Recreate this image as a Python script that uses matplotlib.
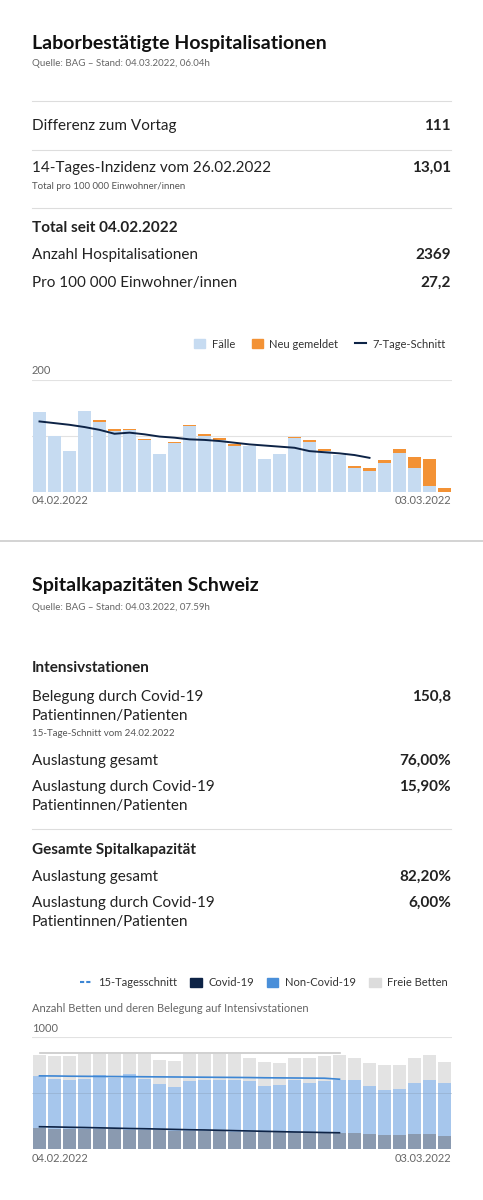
import matplotlib
matplotlib.use("Agg")
import matplotlib.pyplot as plt
from matplotlib.patches import Patch
from matplotlib.lines import Line2D
import numpy as np

plt.rcParams['font.family'] = ['Lato', 'DejaVu Sans']

# Chart 1: hospitalisations
faelle = [142,100,74,144,125,109,110,93,68,87,118,100,93,83,83,59,68,96,90,73,66,43,37,52,69,42,11,0]
neu    = [0,0,0,0,3,3,3,2,0,3,1,3,3,2,0,0,0,3,3,4,0,4,5,5,7,20,48,7]
avg7   = [126,123,120,116,111,104,106,103,99,97,94,93,91,88,85,83,81,79,73,71,69,66,61]

# Chart 2: ICU beds
total   = [837,828,828,852,852,852,852,846,792,786,846,846,846,846,816,777,772,816,816,828,837,816,769,754,754,813,837,777]
noncov_top = [650,629,620,629,659,638,674,629,576,555,608,614,620,614,605,561,570,620,585,605,620,614,564,525,534,593,614,585]
covid   = [184,181,178,175,175,175,172,169,166,163,160,157,157,154,154,151,148,148,145,142,139,139,131,122,122,131,131,119]
avg15_occ = [653,652,650,649,648,647,646,645,644,643,642,641,640,639,638,636,635,634,633,632,623]
avg15_cov = [199,197,194,192,189,186,183,181,178,175,172,170,167,164,161,158,155,152,150,147,145]
avg15_tot = [860]*21

W, H = 483, 1200
fig = plt.figure(figsize=(W/100, H/100), dpi=100)
def fy(p): return 1 - p/H
def fx(p): return p/W
def txt(x, y, s, size=11, bold=False, color='#222222', ha='left'):
    fig.text(fx(x), fy(y), s, fontsize=size, fontweight='bold' if bold else 'normal',
             color=color, ha=ha, va='center')
def hline(y, x0=32, x1=451, color='#dddddd', lw=0.8):
    fig.add_artist(Line2D([fx(x0), fx(x1)], [fy(y), fy(y)], color=color, lw=lw))

txt(32, 43, 'Laborbestätigte Hospitalisationen', 14, True, '#111111')
txt(32, 64, 'Quelle: BAG – Stand: 04.03.2022, 06.04h', 7, False, '#666666')
hline(101)
txt(32, 126, 'Differenz zum Vortag'); txt(451, 126, '111', 11, True, ha='right')
hline(150)
txt(32, 168, '14-Tages-Inzidenz vom 26.02.2022'); txt(451, 168, '13,01', 11, True, ha='right')
txt(32, 187, 'Total pro 100 000 Einwohner/innen', 7, False, '#555555')
hline(208)
txt(32, 228, 'Total seit 04.02.2022', 11, True)
txt(32, 255, 'Anzahl Hospitalisationen'); txt(451, 255, '2369', 11, True, ha='right')
txt(32, 283, 'Pro 100 000 Einwohner/innen'); txt(451, 283, '27,2', 11, True, ha='right')

ax1 = fig.add_axes([fx(32), fy(492), fx(420), 112/H])
x = np.arange(len(faelle))
ax1.bar(x, faelle, width=0.86, color='#c6dbf1', zorder=2)
ax1.bar(x, neu, bottom=faelle, width=0.86, color='#f39235', zorder=2)
ax1.plot(np.arange(len(avg7)), avg7, color='#0d2346', lw=1.4, zorder=3)
ax1.set_ylim(0, 200); ax1.set_xlim(-0.5, len(faelle)-0.5)
for g in (100, 200):
    ax1.axhline(g, color='#e2e2e2', lw=0.8, zorder=1)
ax1.axis('off')
txt(32, 371, '200', 8, False, '#666666')
txt(32, 500, '04.02.2022', 8, False, '#666666'); txt(451, 500, '03.03.2022', 8, False, '#666666', 'right')
h1 = [Patch(color='#c6dbf1'), Patch(color='#f39235'), Line2D([], [], color='#0d2346', lw=1.5)]
fig.legend(h1, ['Fälle', 'Neu gemeldet', '7-Tage-Schnitt'], loc='center right',
           bbox_to_anchor=(fx(456), fy(344)), ncol=3, frameon=False, fontsize=8,
           handlelength=1.0, handleheight=0.8, columnspacing=1.5, handletextpad=0.6, labelcolor='#333333')

fig.add_artist(Line2D([0, 1], [fy(541), fy(541)], color='#cccccc', lw=1.2))

txt(32, 585, 'Spitalkapazitäten Schweiz', 14, True, '#111111')
txt(32, 607, 'Quelle: BAG – Stand: 04.03.2022, 07.59h', 7, False, '#666666')
txt(32, 668, 'Intensivstationen', 11, True)
txt(32, 697, 'Belegung durch Covid-19'); txt(451, 697, '150,8', 11, True, ha='right')
txt(32, 716, 'Patientinnen/Patienten')
txt(32, 733, '15-Tage-Schnitt vom 24.02.2022', 7, False, '#555555')
txt(32, 761, 'Auslastung gesamt'); txt(451, 761, '76,00%', 11, True, ha='right')
txt(32, 787, 'Auslastung durch Covid-19'); txt(451, 787, '15,90%', 11, True, ha='right')
txt(32, 806, 'Patientinnen/Patienten')
hline(829)
txt(32, 850, 'Gesamte Spitalkapazität', 11, True)
txt(32, 877, 'Auslastung gesamt'); txt(451, 877, '82,20%', 11, True, ha='right')
txt(32, 903, 'Auslastung durch Covid-19'); txt(451, 903, '6,00%', 11, True, ha='right')
txt(32, 922, 'Patientinnen/Patienten')

ax2 = fig.add_axes([fx(32), fy(1149), fx(420), 112/H])
x2 = np.arange(len(total))
ax2.bar(x2, total, width=0.86, color='#e3e3e3', zorder=2)
ax2.bar(x2, noncov_top, width=0.86, color='#a6c6ec', zorder=2)
ax2.bar(x2, covid, width=0.86, color='#8a9ab0', zorder=2)
n = len(avg15_occ)
ax2.plot(np.arange(n), avg15_tot, color='#c8c8c8', lw=1.2, zorder=3)
ax2.plot(np.arange(n), avg15_occ, color='#3d86d4', lw=1.2, zorder=3)
ax2.plot(np.arange(n), avg15_cov, color='#0d2346', lw=1.2, zorder=3)
ax2.set_ylim(0, 1000); ax2.set_xlim(-0.5, len(total)-0.5)
ax2.axhline(1000, color='#e2e2e2', lw=0.8, zorder=1)
ax2.axhline(500, color='#8aa0bb', lw=0.5, zorder=2.5, alpha=0.6)
ax2.axis('off')
txt(32, 1008, 'Anzahl Betten und deren Belegung auf Intensivstationen', 8, False, '#666666')
txt(32, 1028, '1000', 8, False, '#666666')
txt(32, 1158, '04.02.2022', 8, False, '#666666'); txt(451, 1158, '03.03.2022', 8, False, '#666666', 'right')
h2 = [Line2D([], [], color='#3d86d4', lw=1.5, ls=(0, (2, 1))), Patch(color='#0d2346'),
      Patch(color='#4a8fd9'), Patch(color='#dcdcdc')]
fig.legend(h2, ['15-Tagesschnitt', 'Covid-19', 'Non-Covid-19', 'Freie Betten'], loc='center right',
           bbox_to_anchor=(fx(458), fy(983)), ncol=4, frameon=False, fontsize=8,
           handlelength=1.0, handleheight=0.8, columnspacing=1.2, handletextpad=0.6, labelcolor='#333333')

fig.savefig('out.png', dpi=100, facecolor='white')
